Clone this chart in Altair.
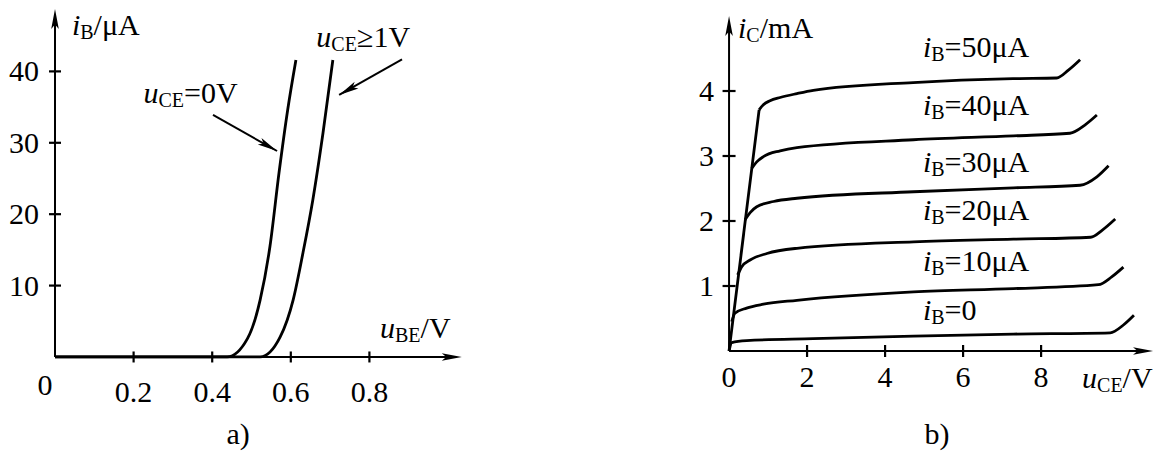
import math
import altair as alt
import pandas as pd

FONT = "Liberation Serif"
MAIN, SUB, SUB_DY = 30, 20, 4
INK = "black"

# ---------------- panel a : input characteristic ----------------
A_W, A_H = 472, 444
A_XDOM = [-0.1196, 1.0814]
A_YDOM = [-13.31, 48.88]
A_XAXIS_END = 1.035
A_YAXIS_END = 48.74

a_uce0_x = [0.0, 0.438, 0.490, 0.522, 0.547, 0.570, 0.592, 0.613]
a_uce0_y = [0.0, 0.0, 2.6, 8.0, 15.5, 25.8, 34.6, 41.6]
a_uce1_x = [0.0, 0.522, 0.573, 0.606, 0.631, 0.656, 0.682, 0.707]
a_uce1_y = [0.0, 0.0, 2.8, 8.0, 14.6, 22.0, 31.4, 41.6]

a_xticks = [0.2, 0.4, 0.6, 0.8]
a_xtick_labels = ["0.2", "0.4", "0.6", "0.8"]
a_yticks = [10, 20, 30, 40]
a_ytick_labels = ["10", "20", "30", "40"]

# annotation arrows (start -> head)
a_arrow_x = [0.402, 0.883]
a_arrow_y = [33.9, 41.7]
a_arrow_x2 = [0.565, 0.723]
a_arrow_y2 = [28.85, 36.7]

# ---------------- panel b : output characteristic ----------------
B_W, B_H = 675, 444
B_XDOM = [-6.385, 10.92]
B_YDOM = [-1.554, 5.277]
B_XAXIS_END = 10.87
B_YAXIS_END = 5.154

b_sat_x = [0.0, 0.77]
b_sat_y = [0.0, 3.71]

b_ib50_x = [0.77, 0.88, 1.05, 1.31, 1.74, 2.16, 4.72, 7.28, 8.40, 8.70, 9.00]
b_ib50_y = [3.71, 3.79, 3.85, 3.90, 3.96, 4.01, 4.13, 4.19, 4.20, 4.32, 4.48]
b_ib40_x = [0.58, 0.71, 0.88, 1.31, 1.74, 4.73, 7.29, 8.74, 9.13, 9.43]
b_ib40_y = [2.81, 2.91, 2.99, 3.08, 3.13, 3.25, 3.31, 3.35, 3.48, 3.63]
b_ib30_x = [0.41, 0.54, 0.71, 1.14, 1.74, 4.73, 7.29, 9.00, 9.43, 9.73]
b_ib30_y = [2.02, 2.13, 2.22, 2.30, 2.35, 2.45, 2.51, 2.55, 2.68, 2.85]
b_ib20_x = [0.22, 0.33, 0.54, 0.97, 1.74, 4.73, 7.29, 9.27, 9.57, 9.90]
b_ib20_y = [1.17, 1.30, 1.40, 1.50, 1.58, 1.68, 1.72, 1.75, 1.86, 2.03]
b_ib10_x = [0.07, 0.15, 0.45, 0.88, 1.74, 4.73, 7.29, 9.47, 9.81, 10.11]
b_ib10_y = [0.45, 0.58, 0.66, 0.72, 0.78, 0.91, 0.96, 1.02, 1.14, 1.29]
b_ib0_x = [0.0, 0.07, 0.45, 2.16, 4.73, 7.29, 9.77, 10.11, 10.38]
b_ib0_y = [0.0, 0.13, 0.16, 0.19, 0.23, 0.26, 0.28, 0.40, 0.55]

b_xticks = [2, 4, 6, 8]
b_xtick_vals = [0, 2, 4, 6, 8]
b_xtick_labels = ["0", "2", "4", "6", "8"]
b_yticks = [1, 2, 3, 4]
b_ytick_labels = ["1", "2", "3", "4"]

b_curve_labels = ["=50μA", "=40μA", "=30μA", "=20μA", "=10μA", "=0"]
b_label_x = [4.97] * 6
b_label_y = [4.52, 3.63, 2.754, 2.015, 1.23, 0.477]

# ---------------- helpers ----------------
ROMAN = {"0": 500, "1": 500, "2": 500, "3": 500, "4": 500, "5": 500, "6": 500,
         "7": 500, "8": 500, "9": 500, ".": 250, "/": 278, "μ": 576, "A": 722,
         "V": 722, "m": 778, "=": 564, "≥": 549, ")": 333, "a": 444, "b": 500,
         "B": 667, "C": 667, "E": 611}
ITALIC = {"i": 278, "u": 500}


def text_width(s, size, italic):
    tbl = ITALIC if italic else ROMAN
    return sum(tbl.get(c, 500) for c in s) * size / 1000.0


def enc(chart, xdom, ydom, x="x", y="y", **extra):
    return chart.encode(
        x=alt.X(x, type="quantitative", scale=alt.Scale(domain=xdom, nice=False, zero=False), axis=None),
        y=alt.Y(y, type="quantitative", scale=alt.Scale(domain=ydom, nice=False, zero=False), axis=None),
        **extra,
    )


def rich(df, pieces, xdom, ydom):
    layers = []
    dx = 0.0
    for text, kind in pieces:
        size = SUB if kind == "sub" else MAIN
        italic = kind == "it"
        props = dict(align="left", baseline="alphabetic", dx=dx,
                     dy=SUB_DY if kind == "sub" else 0, font=FONT, fontSize=size,
                     fontStyle="italic" if italic else "normal", color=INK)
        if text.startswith("@"):
            ch = alt.Chart(df).mark_text(**props)
            layers.append(enc(ch, xdom, ydom, text=alt.Text(text[1:] + ":N")))
            dx += max(text_width(t, size, italic) for t in df[text[1:]])
        else:
            ch = alt.Chart(df).mark_text(text=text, **props)
            layers.append(enc(ch, xdom, ydom))
            dx += text_width(text, size, italic)
    return layers


ARROW = "M0,0 L-2,-0.38 L-1.55,0 L-2,0.38 Z"


def arrowhead(df, angle, size, xdom, ydom):
    ch = alt.Chart(df).mark_point(shape=ARROW, filled=True, fill=INK, strokeWidth=0,
                                  opacity=1, size=size, angle=angle)
    return enc(ch, xdom, ydom)


def axes_layers(xdom, ydom, w, h, xend, yend):
    pxx = w / (xdom[1] - xdom[0])
    pxy = h / (ydom[1] - ydom[0])
    seg = pd.DataFrame({"x": [0.0, 0.0], "y": [0.0, 0.0],
                        "x2": [xend - 10 / pxx, 0.0], "y2": [0.0, yend - 10 / pxy]})
    rule = alt.Chart(seg).mark_rule(color=INK, strokeWidth=2)
    rule = enc(rule, xdom, ydom, x2="x2:Q", y2="y2:Q")
    hx = arrowhead(pd.DataFrame({"x": [xend], "y": [0.0]}), 0, 400, xdom, ydom)
    hy = arrowhead(pd.DataFrame({"x": [0.0], "y": [yend]}), 270, 400, xdom, ydom)
    return [rule, hx, hy]


# ---------------- panel a ----------------
XA, YA = A_XDOM, A_YDOM
pxx_a = A_W / (XA[1] - XA[0])
pxy_a = A_H / (YA[1] - YA[0])

curves_a = pd.DataFrame({
    "x": a_uce0_x + a_uce1_x,
    "y": a_uce0_y + a_uce1_y,
    "s": ["uce0"] * len(a_uce0_x) + ["uce1"] * len(a_uce1_x),
})
layers_a = axes_layers(XA, YA, A_W, A_H, A_XAXIS_END, A_YAXIS_END)
layers_a.append(enc(alt.Chart(curves_a).mark_line(color=INK, strokeWidth=2.8, interpolate="monotone"),
                    XA, YA, detail="s:N"))

xt_a = pd.DataFrame({"x": a_xticks, "y": [0.0] * 4, "t": a_xtick_labels})
yt_a = pd.DataFrame({"x": [0.0] * 4, "y": a_yticks, "t": a_ytick_labels})
layers_a.append(enc(alt.Chart(xt_a).mark_tick(orient="vertical", size=11, thickness=2.2, color=INK, opacity=1), XA, YA))
layers_a.append(enc(alt.Chart(yt_a).mark_tick(orient="horizontal", size=12, thickness=2.2, color=INK, opacity=1), XA, YA))
layers_a.append(enc(alt.Chart(xt_a).mark_text(align="center", baseline="alphabetic", dy=45, font=FONT,
                                              fontSize=MAIN, color=INK), XA, YA, text="t:N"))
layers_a.append(enc(alt.Chart(yt_a).mark_text(align="right", baseline="alphabetic", dx=-16, dy=10, font=FONT,
                                              fontSize=MAIN, color=INK), XA, YA, text="t:N"))
layers_a.append(enc(alt.Chart(pd.DataFrame({"x": [0.0], "y": [0.0]})).mark_text(
    text="0", align="center", baseline="alphabetic", dx=-10, dy=38, font=FONT, fontSize=MAIN, color=INK), XA, YA))

arr_a = pd.DataFrame({"x": a_arrow_x, "y": a_arrow_y, "x2": a_arrow_x2, "y2": a_arrow_y2})
layers_a.append(enc(alt.Chart(arr_a).mark_rule(color=INK, strokeWidth=2), XA, YA, x2="x2:Q", y2="y2:Q"))
for i in range(len(a_arrow_x)):
    dxp = (a_arrow_x2[i] - a_arrow_x[i]) * pxx_a
    dyp = -(a_arrow_y2[i] - a_arrow_y[i]) * pxy_a
    ang = math.degrees(math.atan2(dyp, dxp)) % 360
    layers_a.append(arrowhead(pd.DataFrame({"x": [a_arrow_x2[i]], "y": [a_arrow_y2[i]]}), ang, 400, XA, YA))

layers_a += rich(pd.DataFrame({"x": [0.043], "y": [45.1]}), [("i", "it"), ("B", "sub"), ("/μA", "rm")], XA, YA)
layers_a += rich(pd.DataFrame({"x": [0.827], "y": [2.66]}), [("u", "it"), ("BE", "sub"), ("/V", "rm")], XA, YA)
layers_a += rich(pd.DataFrame({"x": [0.225], "y": [35.6]}), [("u", "it"), ("CE", "sub"), ("=0V", "rm")], XA, YA)
layers_a += rich(pd.DataFrame({"x": [0.665], "y": [43.4]}), [("u", "it"), ("CE", "sub"), ("≥1V", "rm")], XA, YA)
layers_a.append(enc(alt.Chart(pd.DataFrame({"x": [0.466], "y": [-12.2]})).mark_text(
    text="a)", align="center", baseline="alphabetic", font=FONT, fontSize=MAIN, color=INK), XA, YA))

panel_a = alt.layer(*layers_a).properties(width=A_W, height=A_H)

# ---------------- panel b ----------------
XB, YB = B_XDOM, B_YDOM
layers_b = axes_layers(XB, YB, B_W, B_H, B_XAXIS_END, B_YAXIS_END)

sat = pd.DataFrame({"x": b_sat_x, "y": b_sat_y})
layers_b.append(enc(alt.Chart(sat).mark_line(color=INK, strokeWidth=2.8), XB, YB))

series = [("50", b_ib50_x, b_ib50_y), ("40", b_ib40_x, b_ib40_y), ("30", b_ib30_x, b_ib30_y),
          ("20", b_ib20_x, b_ib20_y), ("10", b_ib10_x, b_ib10_y), ("0", b_ib0_x, b_ib0_y)]
cx, cy, cs = [], [], []
for name, xs, ys in series:
    cx += xs
    cy += ys
    cs += [name] * len(xs)
curves_b = pd.DataFrame({"x": cx, "y": cy, "s": cs})
layers_b.append(enc(alt.Chart(curves_b).mark_line(color=INK, strokeWidth=2.8, interpolate="monotone"),
                    XB, YB, detail="s:N"))

xt_b = pd.DataFrame({"x": b_xticks, "y": [0.0] * 4})
xl_b = pd.DataFrame({"x": b_xtick_vals, "y": [0.0] * 5, "t": b_xtick_labels})
yt_b = pd.DataFrame({"x": [0.0] * 4, "y": b_yticks, "t": b_ytick_labels})
layers_b.append(enc(alt.Chart(xt_b).mark_tick(orient="vertical", size=12, thickness=2.2, color=INK, opacity=1), XB, YB))
layers_b.append(enc(alt.Chart(yt_b).mark_tick(orient="horizontal", size=13, thickness=2.2, color=INK, opacity=1), XB, YB))
layers_b.append(enc(alt.Chart(xl_b).mark_text(align="center", baseline="alphabetic", dy=36, font=FONT,
                                              fontSize=MAIN, color=INK), XB, YB, text="t:N"))
layers_b.append(enc(alt.Chart(yt_b).mark_text(align="right", baseline="alphabetic", dx=-15, dy=10, font=FONT,
                                              fontSize=MAIN, color=INK), XB, YB, text="t:N"))

labels_b = pd.DataFrame({"x": b_label_x, "y": b_label_y, "rest": b_curve_labels})
layers_b += rich(labels_b, [("i", "it"), ("B", "sub"), ("@rest", "rm")], XB, YB)
layers_b += rich(pd.DataFrame({"x": [0.23], "y": [4.815]}), [("i", "it"), ("C", "sub"), ("/mA", "rm")], XB, YB)
layers_b += rich(pd.DataFrame({"x": [9.05], "y": [-0.57]}), [("u", "it"), ("CE", "sub"), ("/V", "rm")], XB, YB)
layers_b.append(enc(alt.Chart(pd.DataFrame({"x": [5.33], "y": [-1.43]})).mark_text(
    text="b)", align="center", baseline="alphabetic", font=FONT, fontSize=MAIN, color=INK), XB, YB))

panel_b = alt.layer(*layers_b).properties(width=B_W, height=B_H)

chart = alt.hconcat(panel_a, panel_b, spacing=0).properties(padding=0).configure_view(stroke=None)
chart.save("out.html", embed_options={"renderer": "svg", "actions": False})
